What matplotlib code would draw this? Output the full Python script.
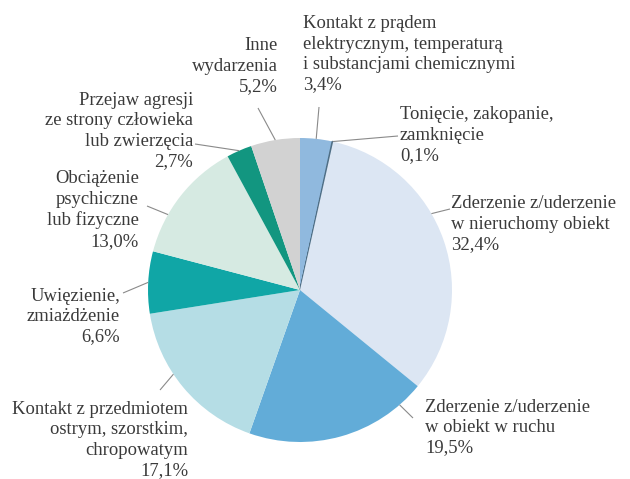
import numpy as np
import matplotlib
matplotlib.use("Agg")
import matplotlib.pyplot as plt

# data (clockwise from 12 o'clock)
labels = [
    "Kontakt z prądem\nelektrycznym, temperaturą\ni substancjami chemicznymi\n3,4%",
    "Tonięcie, zakopanie,\nzamknięcie\n0,1%",
    "Zderzenie z/uderzenie\nw nieruchomy obiekt\n32,4%",
    "Zderzenie z/uderzenie\nw obiekt w ruchu\n19,5%",
    "Kontakt z przedmiotem\nostrym, szorstkim,\nchropowatym\n17,1%",
    "Uwięzienie,\nzmiażdżenie\n6,6%",
    "Obciążenie\npsychiczne\nlub fizyczne\n13,0%",
    "Przejaw agresji\nze strony człowieka\nlub zwierzęcia\n2,7%",
    "Inne\nwydarzenia\n5,2%",
]
values = [3.4, 0.1, 32.4, 19.5, 17.1, 6.6, 13.0, 2.7, 5.2]
colors = ["#90b9de", "#4f6f86", "#dce6f3", "#62acd8", "#b5dde5",
          "#10a6a6", "#d6eae2", "#129680", "#d2d2d2"]

# layout (pixel coords of the 630x479 picture, y from top)
W, H = 630, 479
cx, cy, R = 300, 290, 152
text_xy = [(303, 54.5), (400, 135), (451, 224), (425, 427.5), (188, 440),
           (120, 316.5), (139, 210), (193, 131), (278, 66)]
text_ha = ["left", "left", "left", "left", "right",
           "right", "right", "right", "right"]
leader_end = [(319, 107), (398, 136), (450, 209), (413, 418), (160, 390),
              (123, 293), (147, 206), (195, 144), (258, 108)]
leader_frac = [0.5, 0.5, 0.405, 0.14, 0.6, 0.5, 0.32, 0.5, 0.5]

plt.rcParams['font.family'] = ['Liberation Serif', 'DejaVu Serif']

fig = plt.figure(figsize=(W / 100, H / 100), dpi=100)
ax = fig.add_axes([0, 0, 1, 1])

def py(y):
    return H - y

wedges, _ = ax.pie(values, colors=colors, startangle=90, counterclock=False,
                   center=(cx, py(cy)), radius=R,
                   wedgeprops=dict(linewidth=0))
wedges[1].set_edgecolor(colors[1])
wedges[1].set_linewidth(1.0)

ax.set_xlim(0, W)
ax.set_ylim(0, H)
ax.set_aspect('equal')
ax.axis('off')

for i, w in enumerate(wedges):
    # theta1 < theta2 in degrees (counterclockwise from +x)
    t = np.deg2rad(w.theta2 - leader_frac[i] * (w.theta2 - w.theta1))
    px = cx + R * np.cos(t)
    pyy = py(cy) + R * np.sin(t)
    ex, ey = leader_end[i]
    ax.plot([px, ex], [pyy, py(ey)], color="#8a8a8a", lw=0.8,
            solid_capstyle='butt')
    tx, ty = text_xy[i]
    ax.text(tx, py(ty), labels[i], ha=text_ha[i], va='center',
            multialignment=text_ha[i], fontsize=13.4, color="#3a3a3a",
            linespacing=1.26)

fig.savefig("out.png", dpi=100, facecolor="white")
